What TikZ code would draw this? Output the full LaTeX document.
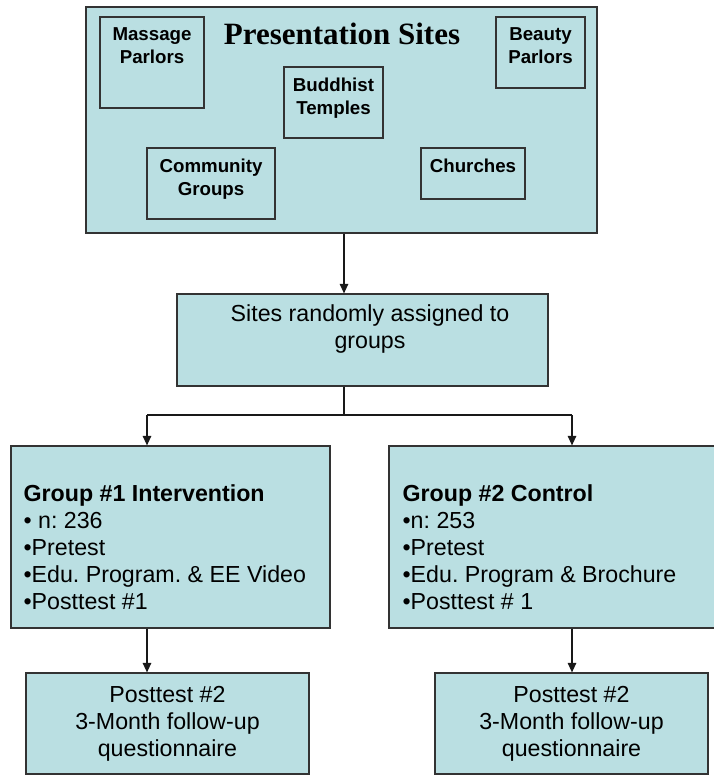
\documentclass[tikz,border=0pt]{standalone}
\usepackage{fontspec}
\setmainfont{Liberation Sans}
\newfontfamily\titlefont{Liberation Serif}
\usetikzlibrary{positioning}
\usetikzlibrary{arrows.meta}
\definecolor{boxblue}{RGB}{186,223,226}
\frenchspacing

\tikzset{
  box/.style={draw=black!80, fill=boxblue, line width=1.2pt, inner sep=0pt},
  sitebox/.style={draw=black!80, line width=1.2pt, inner sep=0pt},
  sitetxt/.style={font=\bfseries\fontsize{18.7}{23.5}\selectfont, align=center, inner sep=0pt},
  bodytxt/.style={font=\fontsize{23.2}{27}\selectfont, inner sep=0pt},
  arr/.style={-{Triangle[length=9.5pt,width=8.5pt]}, line width=1.2pt, black!90},
  link/.style={line width=1.2pt, black!90}
}

\begin{document}
\begin{tikzpicture}[x=1pt,y=-1pt]
  \useasboundingbox (0,0) rectangle (713,775);
  % top block: where the sessions were held
  \node[box, minimum width=511pt, minimum height=226pt] (sites) at (341.5,120) {};
  \node[font=\titlefont\bfseries\fontsize{31}{31}\selectfont, anchor=base, inner sep=0pt] (title) at (342,45) {Presentation Sites};

  \node[sitebox, minimum width=104pt, minimum height=91pt] (massage) at (152,62.5) {};
  \node[sitetxt, below=11pt of massage.north] (massagetxt) {Massage\\Parlors};
  \node[sitebox, minimum width=89pt, minimum height=71pt] (beauty) at (540.5,52.5) {};
  \node[sitetxt, below=11pt of beauty.north] (beautytxt) {Beauty\\Parlors};
  \node[sitebox, minimum width=99pt, minimum height=71pt] (temples) at (333.5,102.5) {};
  \node[sitetxt, below=11pt of temples.north] (templestxt) {Buddhist\\Temples};
  \node[sitebox, minimum width=128pt, minimum height=71pt] (community) at (211,183.5) {};
  \node[sitetxt, below=11pt of community.north] (communitytxt) {Community\\Groups};
  \node[sitebox, minimum width=104pt, minimum height=51pt] (churches) at (473,173.5) {};
  \node[sitetxt, below=11pt of churches.north] (churchestxt) {Churches};

  % randomisation
  \node[box, minimum width=371pt, minimum height=92pt] (rand) at (362.5,340) {};
  \node[bodytxt, align=center] (randtxt) at ([xshift=7.5pt,yshift=10.5pt]rand.center) {Sites randomly assigned to\\groups};
  \draw[arr] ([xshift=2.5pt]sites.south) -- ([xshift=2.5pt]sites.south |- rand.north);

  % the two arms
  \node[box, minimum width=319pt, minimum height=182pt] (grp1) at (170.5,537) {};
  \node[box, minimum width=327pt, minimum height=182pt] (grp2) at (552.5,537) {};
  \node[bodytxt, align=left, anchor=west] (grp1txt) at ([xshift=13pt,yshift=-10.5pt]grp1.west)
    {\textbf{Group \#1 Intervention}\\• n: 236\\•Pretest\\•Edu. Program. \& EE Video\\•Posttest \#1};
  \node[bodytxt, align=left, anchor=west] (grp2txt) at ([xshift=14pt,yshift=-10.5pt]grp2.west)
    {\textbf{Group \#2 Control}\\•n: 253\\•Pretest\\•Edu. Program \& Brochure\\•Posttest \# 1};

  \coordinate (left) at (147,415);
  \coordinate (right) at (572,415);
  \draw[link] ([xshift=-18.5pt]rand.south) -- ([xshift=-18.5pt]rand.south |- left);
  \draw[link] (left) -- (right);
  \draw[arr] (left) -- (left |- grp1.north);
  \draw[arr] (right) -- (right |- grp2.north);

  % follow-up
  \node[box, bodytxt, align=center, minimum width=283pt, minimum height=101pt] (post1) at (167.5,723.5)
    {Posttest \#2\\3-Month follow-up\\questionnaire};
  \node[box, bodytxt, align=center, minimum width=273pt, minimum height=101pt] (post2) at (571.5,723.5)
    {Posttest \#2\\3-Month follow-up\\questionnaire};
  \draw[arr] (left |- grp1.south) -- (left |- post1.north);
  \draw[arr] (right |- grp2.south) -- (right |- post2.north);
\end{tikzpicture}
\end{document}
